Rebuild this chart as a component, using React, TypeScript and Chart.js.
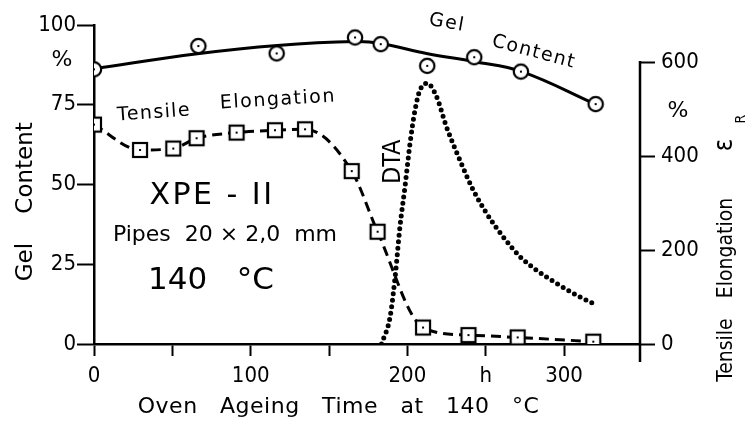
import React, { useEffect, useRef } from 'react';
import { Chart, registerables } from 'chart.js';

Chart.register(...registerables);

// ---- data ----
const gelTimes = [0, 66.6, 116.6, 166.6, 183, 212.7, 242.7, 272.5, 320.2];
const gelValues = [86.1, 93.4, 91.1, 96.1, 94.0, 87.2, 89.9, 85.4, 75.2];

const gelFitTimes = [0, 66, 117, 167, 183, 213, 243, 273, 320];
const gelFitValues = [86.3, 91.0, 93.6, 94.8, 94.2, 91.0, 88.5, 85.4, 75.2];

const elongTimes = [0, 29.4, 50.6, 65.5, 91, 115.5, 134.7, 164.5, 181, 210, 239, 270.4, 318.7];
const elongValues = [467, 413, 416, 438, 450, 455, 457, 368, 239, 35, 19, 14, 5];

const dtaTimes = [183.5, 189, 192.2, 195.3, 198.5, 201.7, 204.9, 208, 212.7, 218.7, 225, 233.6, 242, 250.6, 261.2, 271.9, 282.5, 295.3, 308, 320.2];
const dtaValues = [0, 58, 143, 250, 335, 427, 498, 540, 555, 526, 462, 391, 328, 278, 228, 186, 157, 129, 104, 84];

const xTickValues = [0, 50, 100, 150, 200, 250, 300];
const xTickLabels: Record<number, string> = { 0: '0', 100: '100', 200: '200', 250: 'h', 300: '300' };
const leftTickValues = [0, 25, 50, 75, 100];
const rightTickValues = [0, 200, 400, 600];

const SANS = "'DejaVu Sans', sans-serif";
const COND = "'DejaVu Sans Condensed', 'DejaVu Sans', sans-serif";

type Note = {
  text: string;
  x: number;
  y: number;
  size: number;
  family?: string;
  rot?: number;
  ls?: number;
  base?: CanvasTextBaseline;
};
// positions in data units (x: hours, y: left axis %)
const notes: Note[] = [
  { text: '%', x: -20.4, y: 89.0, size: 22 },
  { text: 'Content', x: -39.6, y: 55.2, size: 23, rot: -90, base: 'alphabetic' },
  { text: 'Gel', x: -39.6, y: 25.7, size: 23, rot: -90, base: 'alphabetic' },
  { text: 'Tensile', x: 38.3, y: 72.4, size: 19, rot: -4, ls: 1.4 },
  { text: 'Elongation', x: 117.4, y: 76.5, size: 19, rot: -3.5, ls: 1.5 },
  { text: 'Gel', x: 225.3, y: 100.6, size: 19, rot: 10, ls: 1.5 },
  { text: 'Content', x: 280.8, y: 91.5, size: 19, rot: 15, ls: 1.5 },
  { text: 'DTA', x: 195.3, y: 57.1, size: 25, family: COND, rot: -90, base: 'alphabetic' },
  { text: 'XPE - II', x: 75.3, y: 46.4, size: 30, ls: 2.5 },
  { text: 'Pipes  20 × 2,0  mm', x: 83.6, y: 34.2, size: 22 },
  { text: '140   °C', x: 74.7, y: 19.7, size: 31 },
  { text: '%', x: 372.8, y: 73.0, size: 22 },
  { text: 'Oven   Ageing   Time   at   140   °C', x: 156.1, y: -19.7, size: 22, ls: 0.5 },
  { text: 'Tensile', x: 407.2, y: -1.9, size: 21, family: COND, rot: -90, base: 'alphabetic' },
  { text: 'Elongation', x: 407.2, y: 30.1, size: 21, family: COND, rot: -90, base: 'alphabetic' },
  { text: 'ε', x: 407.2, y: 62.4, size: 26, family: COND, rot: -90, base: 'alphabetic' },
  { text: 'R', x: 413.0, y: 70.5, size: 14, family: COND, rot: -90 },
];

function makeMarker(kind: 'circle' | 'square'): HTMLCanvasElement {
  const c = document.createElement('canvas');
  const s = 20;
  c.width = s;
  c.height = s;
  const g = c.getContext('2d')!;
  g.fillStyle = '#fff';
  g.strokeStyle = '#000';
  g.lineWidth = 2.2;
  if (kind === 'circle') {
    g.beginPath();
    g.arc(10, 10, 7.2, 0, Math.PI * 2);
    g.fill();
    g.stroke();
  } else {
    g.fillRect(3, 3, 14, 14);
    g.strokeRect(3, 3, 14, 14);
  }
  g.fillStyle = '#000';
  g.fillRect(9, 9, 2, 2);
  return c;
}

const extrasPlugin = {
  id: 'extras',
  beforeDraw(chart: any) {
    const ctx = chart.ctx;
    ctx.save();
    ctx.fillStyle = '#fff';
    ctx.fillRect(0, 0, chart.width, chart.height);
    ctx.restore();
  },
  afterDraw(chart: any) {
    const ctx = chart.ctx;
    const xs = chart.scales.x;
    const ys = chart.scales.y;
    const y2 = chart.scales.y2;
    ctx.save();
    // right axis line
    ctx.strokeStyle = '#000';
    ctx.lineWidth = 2.5;
    ctx.beginPath();
    ctx.moveTo(y2.left, y2.getPixelForValue(600) - 1);
    ctx.lineTo(y2.left, ys.getPixelForValue(0) + 18);
    ctx.stroke();
    // notes
    ctx.fillStyle = '#000';
    for (const n of notes) {
      ctx.save();
      ctx.font = `${n.size}px ${n.family ?? SANS}`;
      ctx.textAlign = 'center';
      ctx.textBaseline = n.base ?? 'middle';
      (ctx as any).letterSpacing = `${n.ls ?? 0}px`;
      ctx.translate(xs.getPixelForValue(n.x), ys.getPixelForValue(n.y));
      if (n.rot) ctx.rotate((n.rot * Math.PI) / 180);
      ctx.fillText(n.text, 0, 0);
      ctx.restore();
    }
    ctx.restore();
  },
};

export default function App() {
  const ref = useRef<HTMLCanvasElement | null>(null);
  useEffect(() => {
    if (!ref.current) return;
    const circle = makeMarker('circle');
    const square = makeMarker('square');
    const tickFont = { family: COND, size: 22 };
    const chart = new Chart(ref.current, {
      type: 'line',
      data: {
        datasets: [
          {
            label: 'Gel Content points',
            data: gelTimes.map((t, i) => ({ x: t, y: gelValues[i] })),
            yAxisID: 'y',
            showLine: false,
            pointStyle: circle as any,
            pointRadius: 8,
          },
          {
            label: 'Tensile Elongation',
            data: elongTimes.map((t, i) => ({ x: t, y: elongValues[i] })),
            yAxisID: 'y2',
            borderColor: '#000',
            borderWidth: 3,
            borderDash: [10, 6],
            cubicInterpolationMode: 'monotone',
            pointStyle: square as any,
            pointRadius: 8,
          },
          {
            label: 'Gel Content',
            data: gelFitTimes.map((t, i) => ({ x: t, y: gelFitValues[i] })),
            yAxisID: 'y',
            borderColor: '#000',
            borderWidth: 3,
            tension: 0.4,
            pointRadius: 0,
          },
          {
            label: 'DTA',
            data: dtaTimes.map((t, i) => ({ x: t, y: dtaValues[i] })),
            yAxisID: 'y2',
            borderColor: '#000',
            borderWidth: 5,
            borderDash: [0, 6.5],
            borderCapStyle: 'round',
            cubicInterpolationMode: 'monotone',
            pointRadius: 0,
          },
        ],
      } as any,
      options: {
        responsive: false,
        animation: false,
        devicePixelRatio: 1,
        layout: { padding: { top: 25, left: 0, right: 0, bottom: 0 } },
        plugins: { legend: { display: false }, tooltip: { enabled: false } },
        scales: {
          x: {
            type: 'linear',
            position: 'bottom',
            min: 0,
            max: 348.5,
            afterBuildTicks: (s: any) => {
              s.ticks = xTickValues.map((v) => ({ value: v }));
            },
            afterFit: (s: any) => {
              s.height = 79;
            },
            ticks: {
              autoSkip: false,
              maxRotation: 0,
              color: '#000',
              font: tickFont,
              padding: 7,
              callback: (v: any) => xTickLabels[v as number] ?? '',
            },
            grid: { drawOnChartArea: false, tickLength: 12, tickWidth: 2, color: '#000', tickColor: '#000' },
            border: { display: true, color: '#000', width: 2.5 },
          },
          y: {
            type: 'linear',
            position: 'left',
            min: 0,
            max: 100,
            afterBuildTicks: (s: any) => {
              s.ticks = leftTickValues.map((v) => ({ value: v }));
            },
            afterFit: (s: any) => {
              s.width = 94;
            },
            ticks: { color: '#000', font: tickFont, padding: 1 },
            grid: { drawOnChartArea: false, tickLength: 17, tickWidth: 2, color: '#000', tickColor: '#000' },
            border: { display: true, color: '#000', width: 2.5 },
          },
          y2: {
            type: 'linear',
            position: 'right',
            min: 0,
            max: 679,
            afterBuildTicks: (s: any) => {
              s.ticks = rightTickValues.map((v) => ({ value: v }));
            },
            afterFit: (s: any) => {
              s.width = 112;
            },
            ticks: { color: '#000', font: tickFont, padding: 6 },
            grid: { drawOnChartArea: false, tickLength: 15, tickWidth: 2, color: '#000', tickColor: '#000' },
            border: { display: false },
          },
        },
      } as any,
      plugins: [extrasPlugin],
    });
    return () => chart.destroy();
  }, []);
  return (
    <div style={{ position: 'fixed', left: 0, top: 0, width: 752, height: 423, background: '#fff' }}>
      <canvas ref={ref} width={752} height={423} style={{ display: 'block' }} />
    </div>
  );
}
